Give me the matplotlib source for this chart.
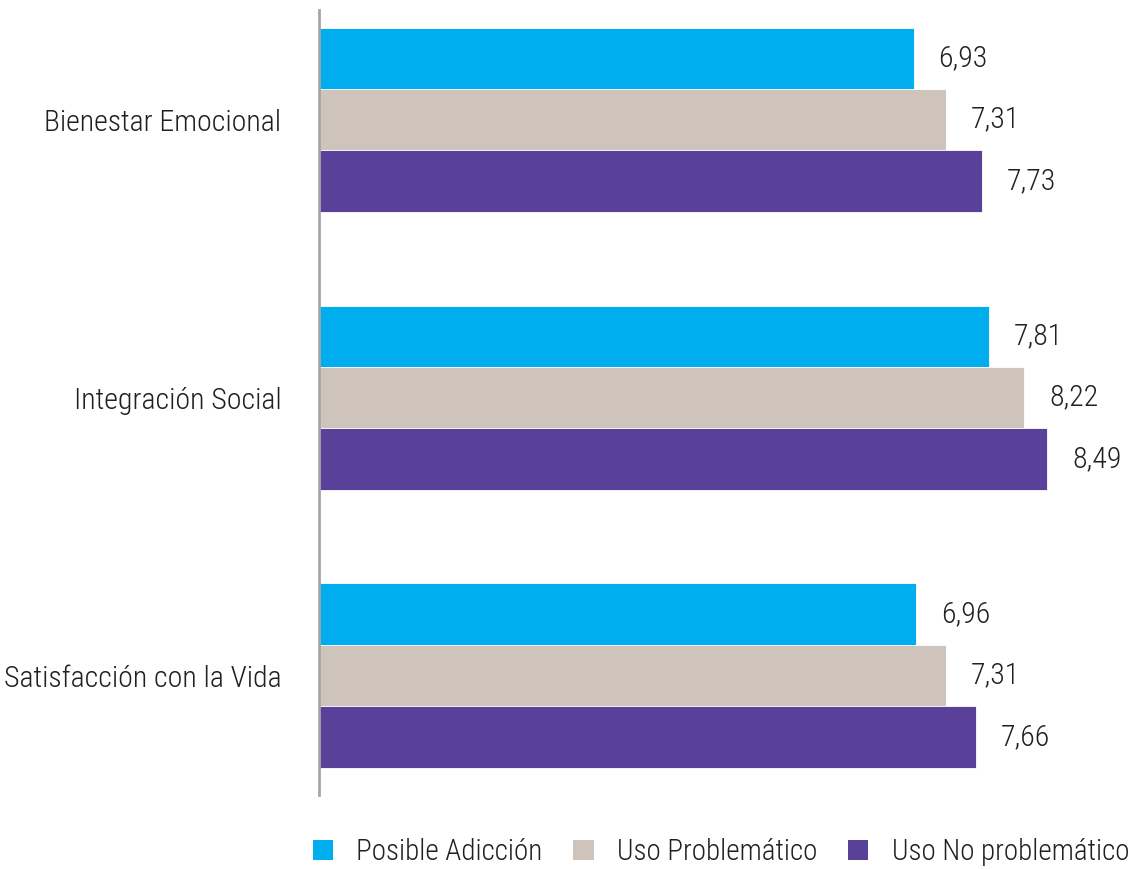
import matplotlib
matplotlib.use("Agg")
import matplotlib.pyplot as plt
import numpy as np

plt.rcParams['font.family'] = ['Roboto Condensed', 'DejaVu Sans']
plt.rcParams['font.weight'] = 'light'

# datos
categorias = ["Bienestar Emocional", "Integración Social", "Satisfacción con la Vida"]
series = ["Posible Adicción", "Uso Problemático", "Uso No problemático"]
posible_adiccion = [6.93, 7.81, 6.96]
uso_problematico = [7.31, 8.22, 7.31]
uso_no_problematico = [7.73, 8.49, 7.66]
colores = ["#00AEEF", "#CEC4BB", "#594099"]

valores = [posible_adiccion, uso_problematico, uso_no_problematico]

fig = plt.figure(figsize=(11.35, 8.69), dpi=100)
ax = fig.add_axes([319 / 1135, 74 / 869, (1135 - 319) / 1135, 785 / 869])

y = np.arange(len(categorias))
alto = 0.221
for i, (serie, vals, col) in enumerate(zip(series, valores, colores)):
    pos = y + (i - 1) * alto
    ax.barh(pos, vals, height=alto, color=col, edgecolor="white", linewidth=0.6, label=serie)
    for p, v in zip(pos, vals):
        ax.text(v + 0.29, p, f"{v:.2f}".replace(".", ","), va="center", ha="left",
                fontsize=21.5, color="#231F20")

ax.set_xlim(0, (1135 - 319) / 85.8)
ax.set_ylim(2.43, -0.395)
ax.set_yticks(y)
ax.set_yticklabels(categorias, fontsize=21.5, color="#231F20")
ax.tick_params(axis="y", length=0, pad=27)
ax.set_xticks([])
for s in ["top", "right", "bottom"]:
    ax.spines[s].set_visible(False)
ax.spines["left"].set_color("#A6A6A6")
ax.spines["left"].set_linewidth(2)

leg = fig.legend(loc="center", bbox_to_anchor=(721 / 1135, 1 - 852 / 869), ncol=3,
                 frameon=False, fontsize=21, handlelength=0.7, handleheight=0.7,
                 handletextpad=0.8, columnspacing=1.05, borderpad=0.1, labelcolor="#231F20")
for h in leg.legend_handles:
    h.set_edgecolor("none")

fig.savefig("out.png", dpi=100)
